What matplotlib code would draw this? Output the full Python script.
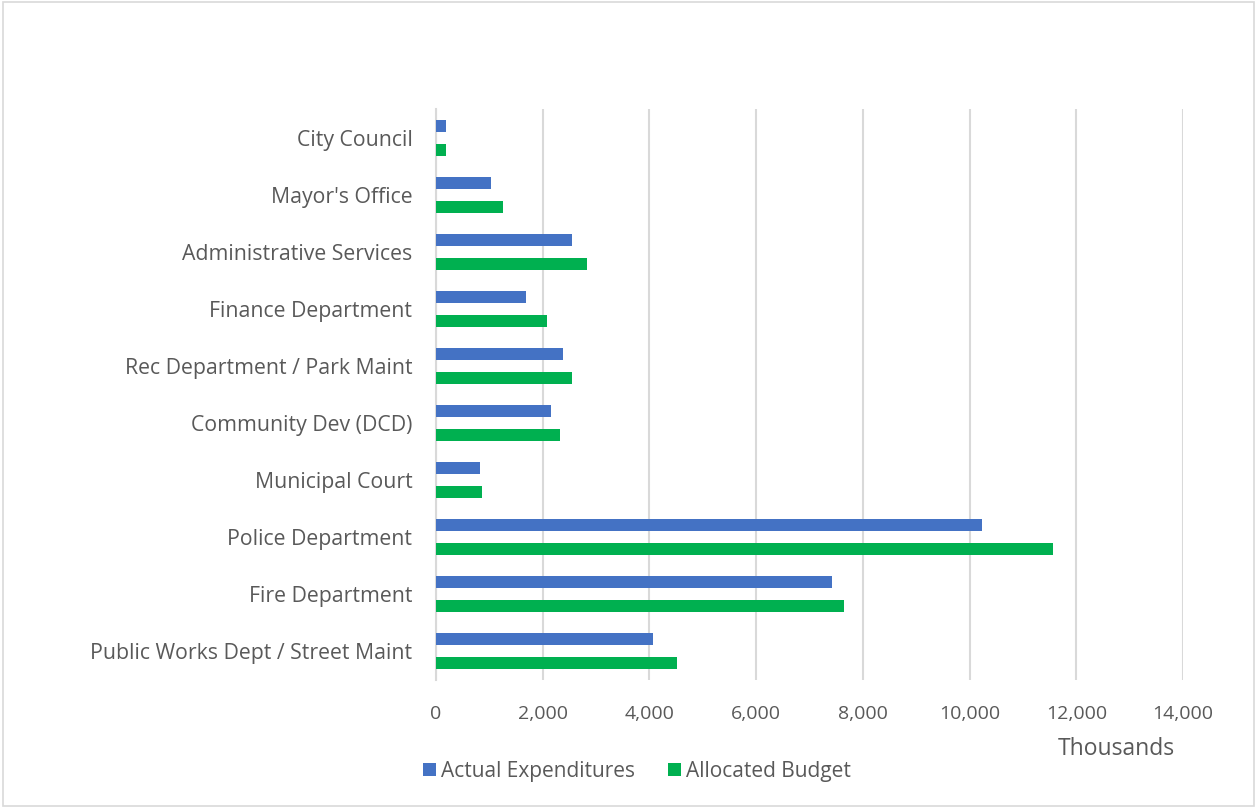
import matplotlib.pyplot as plt
from matplotlib.patches import Rectangle
from matplotlib.ticker import FuncFormatter
import numpy as np

departments = ['City Council', "Mayor's Office", 'Administrative Services',
               'Finance Department', 'Rec Department / Park Maint',
               'Community Dev (DCD)', 'Municipal Court', 'Police Department',
               'Fire Department', 'Public Works Dept / Street Maint']
actual = [182, 1031, 2557, 1688, 2375, 2150, 819, 10238, 7419, 4075]
budget = [188, 1256, 2825, 2081, 2557, 2325, 863, 11556, 7650, 4519]

blue = '#4472C4'
green = '#00B050'
txt = '#595959'
grid = '#d9d9d9'

plt.rcParams['font.family'] = ['Open Sans', 'DejaVu Sans']

fig = plt.figure(figsize=(12.57, 8.08), dpi=100)
fig.patches.append(Rectangle((0.002, 0.002), 0.996, 0.996, transform=fig.transFigure,
                             fill=False, edgecolor=grid, lw=1.2))
ax = fig.add_axes([0.3469, 0.159, 0.5943, 0.7055])

y = np.arange(len(departments))
h = 0.21
ax.barh(y - h, actual, height=h, color=blue, label='Actual Expenditures', zorder=3)
ax.barh(y + h, budget, height=h, color=green, label='Allocated Budget', zorder=3)

ax.set_ylim(len(departments) - 0.5, -0.5)
ax.set_xlim(0, 14000)
ax.set_xticks(range(0, 14001, 2000))
ax.xaxis.set_major_formatter(FuncFormatter(lambda v, p: f'{int(v):,}'))
ax.set_yticks(y)
ax.set_yticklabels(departments)
ax.tick_params(axis='both', length=0, colors=txt)
ax.tick_params(axis='x', pad=18, labelsize=14)
ax.tick_params(axis='y', pad=17, labelsize=15.3)
ax.grid(axis='x', color=grid, lw=1.5, zorder=0)
for s in ['top', 'right', 'bottom']:
    ax.spines[s].set_visible(False)
ax.spines['left'].set_color(grid)
ax.spines['left'].set_linewidth(1.5)

fig.text(1116 / 1257, 1 - 749 / 808, 'Thousands', ha='center', va='center',
         fontsize=16.5, color=txt)
ax.legend(loc='center', bbox_to_anchor=(637 / 1257, 1 - 771 / 808),
          bbox_transform=fig.transFigure, ncol=2, frameon=False,
          handlelength=0.6, handleheight=0.6, handletextpad=0.25,
          columnspacing=1.6, fontsize=15, labelcolor=txt)

fig.savefig('out.png', dpi=100)
